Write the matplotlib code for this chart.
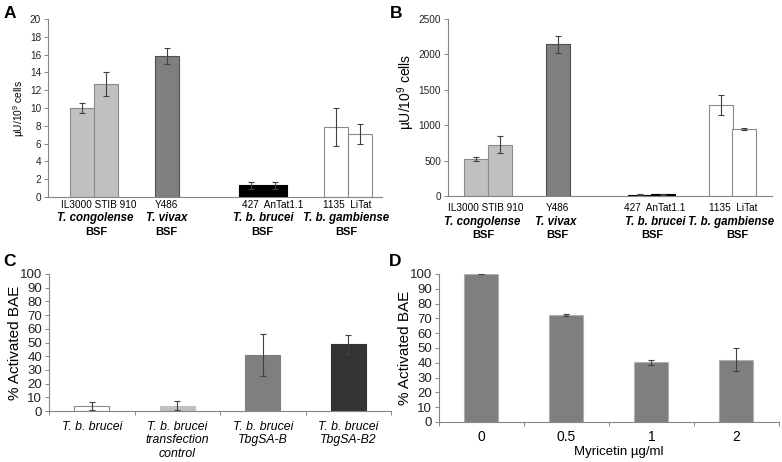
import matplotlib
matplotlib.use("Agg")
import matplotlib.pyplot as plt

plt.rcParams['font.family'] = ['Liberation Sans', 'DejaVu Sans']
plt.rcParams['mathtext.fontset'] = 'custom'
plt.rcParams['mathtext.rm'] = 'Liberation Sans'

# ---------------- data ----------------
strains = ["IL3000", "STIB 910", "Y486", "427", "AnTat1.1", "1135", "LiTat"]
species = ["T. congolense", "T. vivax", "T. b. brucei", "T. b. gambiense"]
strain_groups = ["IL3000 STIB 910", "Y486", "427  AnTat1.1", "1135  LiTat"]

a_values = [10.0, 12.7, 15.8, 1.3, 1.3, 7.85, 7.1]
a_errors = [0.6, 1.35, 0.9, 0.4, 0.4, 2.1, 1.1]

b_values = [520, 725, 2145, 20, 25, 1280, 945]
b_errors = [30, 120, 120, 5, 5, 140, 15]

c_labels = ["T. b. brucei", "T. b. brucei\ntransfection\ncontrol",
            "T. b. brucei\nTbgSA-B", "T. b. brucei\nTbgSA-B2"]
c_values = [3.5, 4.0, 41.0, 48.7]
c_errors = [3.0, 3.2, 15.3, 6.8]

d_labels = ["0", "0.5", "1", "2"]
d_values = [100, 72.2, 40.3, 42.0]
d_errors = [0.0, 0.7, 1.5, 7.8]

# ---------------- styles ----------------
bar_fc = ["#c0c0c0", "#c0c0c0", "#7f7f7f", "#000000", "#000000", "#ffffff", "#ffffff"]
bar_ec = ["#8a8a8a", "#8a8a8a", "#505050", "#000000", "#000000", "#8a8a8a", "#8a8a8a"]
c_fc = ["#ffffff", "#c0c0c0", "#7f7f7f", "#333333"]
c_ec = ["#8a8a8a", "#c0c0c0", "#7f7f7f", "#333333"]
spine_c = "#868686"
err_kw = dict(ecolor="#404040", elinewidth=0.8, capsize=2.2, capthick=0.8)

W, H = 782, 462
fig = plt.figure(figsize=(W / 100, H / 100), dpi=100)


def px_axes(l, t, r, b):
    return fig.add_axes([l / W, 1 - b / H, (r - l) / W, (b - t) / H])


def style(ax, ls=7.2):
    for s in ["top", "right"]:
        ax.spines[s].set_visible(False)
    for s in ["left", "bottom"]:
        ax.spines[s].set_color(spine_c)
        ax.spines[s].set_linewidth(0.8)
    ax.tick_params(axis="y", direction="out", length=3, width=0.7, color=spine_c,
                   pad=2, labelsize=ls, labelcolor="#222222")


def under(ax, x, txt, dy, **kw):
    ax.annotate(txt, xy=(x, 0), xycoords=("data", "axes fraction"),
                xytext=(0, -dy), textcoords="offset pixels",
                ha="center", va="center", annotation_clip=False, **kw)


# ---------------- Panel A ----------------
axA = px_axes(48, 19, 382, 197)
a_pos = [1.42, 2.42, 4.94, 8.46, 9.46, 11.98, 12.98]
axA.bar(a_pos, a_values, width=1.0, color=bar_fc, edgecolor=bar_ec, linewidth=0.8,
        yerr=a_errors, error_kw=err_kw)
axA.set_xlim(0, 13.9)
axA.set_ylim(0, 20)
axA.set_yticks(range(0, 21, 2))
axA.set_xticks([])
style(axA)
axA.set_ylabel("µU/10$^9$ cells", fontsize=7.4)
axA.yaxis.set_label_coords(-0.063, 0.5)
a_strain_x = [2.11, 4.92, 9.33, 12.46]
a_spec_x = [1.96, 4.92, 8.96, 12.4]
a_bsf_x = [2.0, 4.92, 8.92, 12.42]
for i in range(4):
    under(axA, a_strain_x[i], strain_groups[i], 8, fontsize=7.2)
    under(axA, a_spec_x[i], species[i], 21, fontsize=8.3, fontweight="bold", fontstyle="italic")
    under(axA, a_bsf_x[i], "BSF", 35, fontsize=8, fontweight="bold")

# ---------------- Panel B ----------------
axB = px_axes(448, 19, 772, 196)
b_pos = [1.15, 2.15, 4.6, 7.98, 8.94, 11.38, 12.35]
axB.bar(b_pos, b_values, width=1.0, color=bar_fc, edgecolor=bar_ec, linewidth=0.8,
        yerr=b_errors, error_kw=err_kw)
axB.set_xlim(0, 13.5)
axB.set_ylim(0, 2500)
axB.set_yticks(range(0, 2501, 500))
axB.set_xticks([])
style(axB)
axB.set_ylabel("µU/10$^9$ cells", fontsize=10)
axB.yaxis.set_label_coords(-0.096, 0.59)
b_strain_x = [1.56, 4.55, 8.63, 11.9]
b_spec_x = [1.42, 4.5, 8.63, 11.8]
b_bsf_x = [1.46, 4.55, 8.5, 12.04]
for i in range(4):
    under(axB, b_strain_x[i], strain_groups[i], 12, fontsize=7.2)
    under(axB, b_spec_x[i], species[i], 26, fontsize=8.3, fontweight="bold", fontstyle="italic")
    under(axB, b_bsf_x[i], "BSF", 39, fontsize=8, fontweight="bold")

# ---------------- Panel C ----------------
axC = px_axes(49, 274, 391, 411)
c_pos = range(len(c_values))
axC.bar(c_pos, c_values, width=0.41, color=c_fc, edgecolor=c_ec, linewidth=0.8,
        yerr=c_errors, error_kw=err_kw)
axC.set_xlim(-0.5, 3.5)
axC.set_ylim(0, 100)
axC.set_yticks(range(0, 101, 10))
axC.set_xticks([-0.5, 0.5, 1.5, 2.5, 3.5])
axC.set_xticklabels([])
axC.tick_params(axis="x", direction="out", length=3, width=0.7, color=spine_c)
style(axC, ls=9.5)
axC.set_ylabel("% Activated BAE", fontsize=11)
axC.yaxis.set_label_coords(-0.079, 0.5)
for i, lab in enumerate(c_labels):
    axC.annotate(lab, xy=(i, 0), xycoords=("data", "axes fraction"),
                 xytext=(0, -10), textcoords="offset pixels", ha="center", va="top",
                 fontsize=8.8, fontstyle="italic", linespacing=1.15, annotation_clip=False)

# ---------------- Panel D ----------------
axD = px_axes(439, 274, 779, 422)
d_pos = range(len(d_values))
axD.bar(d_pos, d_values, width=0.4, color="#7f7f7f", edgecolor="#b0b0b0", linewidth=0.8,
        yerr=d_errors, error_kw=err_kw)
axD.set_xlim(-0.5, 3.5)
axD.set_ylim(0, 100)
axD.set_yticks(range(0, 101, 10))
axD.set_xticks([-0.5, 0.5, 1.5, 2.5, 3.5])
axD.set_xticklabels([])
axD.tick_params(axis="x", direction="out", length=3, width=0.7, color=spine_c)
style(axD, ls=9.5)
axD.set_ylabel("% Activated BAE", fontsize=11)
axD.yaxis.set_label_coords(-0.078, 0.5)
for i, lab in enumerate(d_labels):
    under(axD, i, lab, 15, fontsize=10)
axD.annotate("Myricetin µg/ml", xy=(0.53, 0), xycoords="axes fraction",
             xytext=(0, -30), textcoords="offset pixels", ha="center", va="center",
             fontsize=9.5, annotation_clip=False)

# ---------------- panel letters ----------------
for letter, x, y in [("A", 4, 13), ("B", 390, 13), ("C", 3, 262), ("D", 389, 262)]:
    fig.text(x / W, 1 - y / H, letter, fontsize=12.5, fontweight="bold", ha="left", va="center")

fig.savefig("out.png", dpi=100)
